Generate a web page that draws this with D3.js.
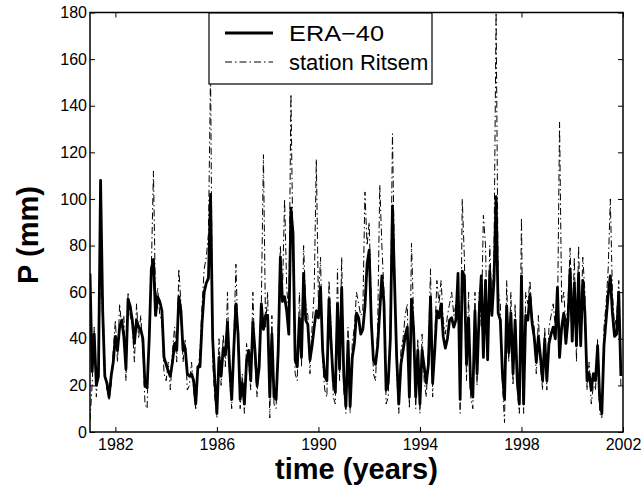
<!DOCTYPE html>
<html lang="en">
<head>
  <meta charset="UTF-8">
  <title>ERA-40 vs station Ritsem</title>
  <script src="https://d3js.org/d3.v7.min.js"></script>
  <style>
    body { margin: 0; background: #fff; }
    text { font-family: "Liberation Sans", Arial, sans-serif; }
  </style>
</head>
<body>
  <svg width="644" height="489"></svg>

  <script>
    // monthly precipitation (mm), Jan 1981 .. Dec 2001
    const startYear = 1981;
    const era40 = [
      68, 26, 42, 20, 24, 108, 52, 24, 21, 15, 24, 30,
      41, 35, 45, 48, 41, 27, 57, 54, 48, 38, 48, 45,
      44, 40, 20, 19, 40, 70, 74, 50, 58, 56, 52, 32,
      29, 26, 24, 30, 38, 35, 58, 52, 35, 36, 25, 24,
      25, 22, 12, 28, 28, 47, 60, 64, 66, 102, 40, 22,
      8, 32, 24, 36, 33, 47, 28, 14, 36, 55, 42, 14,
      21, 12, 30, 35, 22, 47, 35, 20, 28, 55, 44, 50,
      50, 15, 42, 15, 14, 35, 75, 56, 58, 52, 42, 96,
      85, 31, 28, 49, 32, 68, 48, 46, 31, 37, 45, 52,
      49, 62, 35, 24, 22, 57, 38, 22, 17, 55, 27, 62,
      24, 11, 39, 11, 32, 38, 51, 49, 42, 44, 54, 72,
      78, 47, 31, 29, 37, 52, 67, 55, 18, 21, 40, 97,
      64, 32, 12, 29, 35, 41, 45, 15, 57, 44, 15, 35,
      12, 35, 28, 21, 29, 58, 21, 35, 52, 49, 55, 41,
      36, 40, 48, 49, 45, 48, 68, 14, 69, 67, 29, 49,
      19, 15, 52, 25, 51, 67, 32, 65, 31, 69, 50, 65,
      101, 51, 48, 25, 14, 54, 34, 51, 25, 48, 22, 12,
      67, 12, 50, 48, 59, 47, 41, 30, 41, 32, 22, 40,
      22, 38, 42, 45, 40, 62, 32, 45, 51, 38, 48, 70,
      39, 64, 37, 68, 37, 65, 51, 22, 25, 18, 25, 22,
      37, 14, 8, 37, 48, 59, 67, 51, 41, 42, 60, 24
    ];
    const ritsem = [
      5, 20, 45, 15, 30, 70, 60, 28, 18, 14, 20, 35,
      48, 30, 55, 45, 50, 22, 60, 50, 45, 30, 55, 40,
      50, 35, 12, 10, 45, 70, 112, 55, 62, 50, 48, 25,
      22, 30, 18, 35, 45, 30, 70, 55, 30, 40, 18, 20,
      30, 18, 10, 25, 35, 55, 70, 75, 85, 155, 30, 15,
      6, 40, 20, 42, 28, 60, 22, 10, 40, 72, 38, 10,
      25, 8, 38, 30, 18, 60, 30, 15, 35, 55, 119, 45,
      60, 6, 50, 12, 10, 45, 80, 60, 100, 62, 50, 145,
      75, 25, 22, 60, 28, 80, 55, 50, 25, 45, 60, 117,
      55, 75, 30, 18, 15, 65, 45, 15, 12, 70, 22, 75,
      18, 8, 45, 8, 38, 45, 60, 55, 50, 52, 103, 80,
      90, 55, 25, 22, 45, 106, 80, 60, 12, 15, 45, 128,
      70, 25, 8, 35, 40, 50, 55, 10, 81, 50, 10, 40,
      8, 42, 22, 15, 35, 70, 15, 40, 65, 55, 65, 48,
      42, 50, 55, 60, 50, 55, 60, 8, 100, 75, 22, 60,
      15, 10, 60, 20, 60, 45, 93, 80, 35, 80, 55, 75,
      180, 60, 55, 20, 4, 65, 30, 60, 20, 55, 18, 8,
      92, 8, 60, 55, 65, 50, 45, 25, 50, 28, 18, 45,
      18, 45, 50, 55, 45, 45, 133, 55, 60, 45, 55, 79,
      45, 75, 30, 80, 45, 75, 60, 18, 30, 12, 20, 18,
      40, 8, 6, 45, 55, 70, 100, 60, 45, 50, 65, 20
    ];
    const xTicks = [1982, 1986, 1990, 1994, 1998, 2002];
    const yTicks = [0, 20, 40, 60, 80, 100, 120, 140, 160, 180];
    const seriesNames = ["ERA\u221240", "station Ritsem"];

    const margin = { top: 12.5, right: 21, bottom: 57, left: 90 };
    const W = 644, H = 489;
    const width = W - margin.left - margin.right;
    const height = H - margin.top - margin.bottom;

    const svg = d3.select("svg");
    const g = svg.append("g")
      .attr("transform", "translate(" + margin.left + "," + margin.top + ")");

    const x = d3.scaleLinear().domain([1981, 2002]).range([0, width]);
    const y = d3.scaleLinear().domain([0, 180]).range([height, 0]);

    const t = (i) => startYear + i / 12;

    g.append("defs").append("clipPath").attr("id", "clip")
      .append("rect").attr("width", width).attr("height", height);

    const line = d3.line()
      .x((d, i) => x(t(i)))
      .y(d => y(d));

    const plot = g.append("g").attr("clip-path", "url(#clip)");
    plot.append("path")
      .datum(ritsem)
      .attr("fill", "none")
      .attr("stroke", "#000")
      .attr("stroke-width", 1)
      .attr("stroke-dasharray", "7,3,1.5,3")
      .attr("d", line);
    plot.append("path")
      .datum(era40)
      .attr("fill", "none")
      .attr("stroke", "#000")
      .attr("stroke-width", 2.8)
      .attr("stroke-linejoin", "round")
      .attr("d", line);

    // axes, ticks inward on all four sides
    const tk = 5;
    const styleAxis = sel => {
      sel.select(".domain").remove();
      sel.selectAll(".tick line").attr("stroke", "#000");
      sel.selectAll(".tick text").attr("font-size", 16).attr("fill", "#000")
        .style("font-family", "'Liberation Sans', Arial, sans-serif");
    };
    g.append("g").attr("transform", "translate(0," + height + ")")
      .call(d3.axisBottom(x).tickValues(xTicks).tickFormat(d3.format("d"))
        .tickSizeInner(-tk).tickSizeOuter(0).tickPadding(7))
      .call(styleAxis);
    g.append("g")
      .call(d3.axisTop(x).tickValues(xTicks).tickFormat("")
        .tickSizeInner(-tk).tickSizeOuter(0))
      .call(styleAxis);
    g.append("g")
      .call(d3.axisLeft(y).tickValues(yTicks)
        .tickSizeInner(-tk).tickSizeOuter(0).tickPadding(3))
      .call(styleAxis);
    g.append("g").attr("transform", "translate(" + width + ",0)")
      .call(d3.axisRight(y).tickValues(yTicks).tickFormat("")
        .tickSizeInner(-tk).tickSizeOuter(0))
      .call(styleAxis);

    g.append("rect")
      .attr("width", width).attr("height", height)
      .attr("fill", "none").attr("stroke", "#000").attr("stroke-width", 1.5);

    // axis titles
    svg.append("text")
      .attr("x", margin.left + width / 2)
      .attr("y", 479)
      .attr("text-anchor", "middle")
      .attr("font-size", 29).attr("font-weight", "bold")
      .text("time (years)");
    svg.append("text")
      .attr("transform", "translate(38,235) rotate(-90)")
      .attr("text-anchor", "middle")
      .attr("font-size", 29).attr("font-weight", "bold")
      .text("P (mm)");

    // legend
    const lg = svg.append("g").attr("transform", "translate(209,13)");
    lg.append("rect").attr("width", 223).attr("height", 71)
      .attr("fill", "#fff").attr("stroke", "#000").attr("stroke-width", 1.2);
    const rows = [
      { name: seriesNames[0], w: 2.8, dash: null, len: 95 },
      { name: seriesNames[1], w: 1, dash: "7,3,1.5,3", len: null }
    ];
    rows.forEach((r, i) => {
      const yy = 20 + i * 29;
      lg.append("line").attr("x1", 16).attr("x2", 64).attr("y1", yy).attr("y2", yy)
        .attr("stroke", "#000").attr("stroke-width", r.w)
        .attr("stroke-dasharray", r.dash);
      const tx = lg.append("text").attr("x", 80).attr("y", yy + 8)
        .attr("font-size", 22).text(r.name);
      if (r.len) tx.attr("textLength", r.len).attr("lengthAdjust", "spacingAndGlyphs");
    });
  </script>
</body>
</html>
